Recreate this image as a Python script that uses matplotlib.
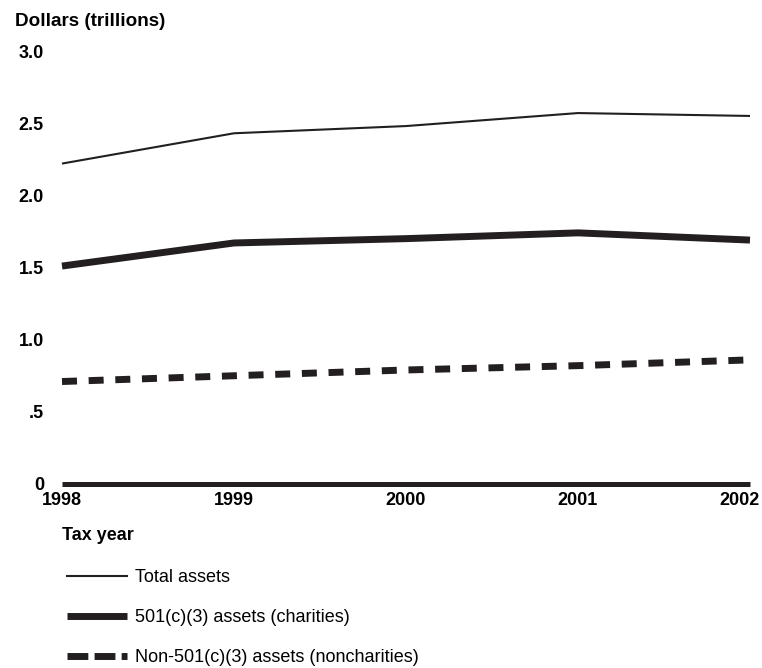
import matplotlib
matplotlib.use("Agg")
import matplotlib.pyplot as plt
import matplotlib.transforms as mtransforms
from matplotlib.lines import Line2D

plt.rcParams['font.family'] = ['Liberation Sans', 'DejaVu Sans']

# ── data (trillions of dollars)
years = [1998, 1999, 2000, 2001, 2002]
total_assets = [2.22, 2.43, 2.48, 2.57, 2.55]
charity_assets = [1.51, 1.67, 1.70, 1.74, 1.69]
noncharity_assets = [0.71, 0.75, 0.79, 0.82, 0.86]
y_ticks = [0, 0.5, 1.0, 1.5, 2.0, 2.5, 3.0]
y_ticklabels = ["0", ".5", "1.0", "1.5", "2.0", "2.5", "3.0"]
legend_labels = ["Total assets", "501(c)(3) assets (charities)",
                 "Non-501(c)(3) assets (noncharities)"]

W, H = 762, 668
fig = plt.figure(figsize=(W / 100, H / 100), dpi=100)
ax = fig.add_axes([62 / W, (H - 484) / H, (750 - 62) / W, (484 - 51) / H])

ink = "#231f20"
ax.plot(years, total_assets, color=ink, lw=1.5, solid_capstyle="butt", clip_on=False)
ax.plot(years, charity_assets, color=ink, lw=5, solid_capstyle="butt", clip_on=False)
dashed, = ax.plot(years, noncharity_assets, color=ink, lw=5, dash_capstyle="butt", clip_on=False)
dashed.set_dashes((2.16, 1.68))

# zero line doubles as x axis
ax.axhline(0, color=ink, lw=3.6, solid_capstyle="butt", clip_on=False)

ax.set_xlim(1998, 2002)
ax.set_ylim(0, 3.0)
for s in ax.spines.values():
    s.set_visible(False)
ax.set_xticks(years)
ax.set_xticklabels([str(y) for y in years], fontweight="bold", fontsize=13)
ax.set_yticks(y_ticks)
ax.set_yticklabels(y_ticklabels, fontweight="bold", fontsize=13)
ax.tick_params(axis="x", length=0, pad=6)
ax.tick_params(axis="y", length=0, pad=13)
# last year label sits a little left
lab = ax.get_xticklabels()[-1]
lab.set_transform(lab.get_transform() + mtransforms.ScaledTranslation(-10 / 100, 0, fig.dpi_scale_trans))

fig.text(15 / W, 1 - 22 / H, "Dollars (trillions)", fontweight="bold", fontsize=13.6, va="center", ha="left")
fig.text(62 / W, 1 - 536 / H, "Tax year", fontweight="bold", fontsize=13, va="center", ha="left")

# legend (proxy handles so dashes look like the original key)
h1 = Line2D([], [], color=ink, lw=1.5)
h2 = Line2D([], [], color=ink, lw=5, solid_capstyle="butt")
h3 = Line2D([], [], color=ink, lw=5, dash_capstyle="butt", dashes=(3.0, 0.9))
fig.legend([h1, h2, h3], legend_labels, loc="upper left",
           bbox_to_anchor=(67 / W, 1 - 569 / H), frameon=False, fontsize=13,
           handlelength=3.3, handletextpad=0.45, labelspacing=1.27,
           borderpad=0, borderaxespad=0)

fig.savefig("out.png", dpi=100)
